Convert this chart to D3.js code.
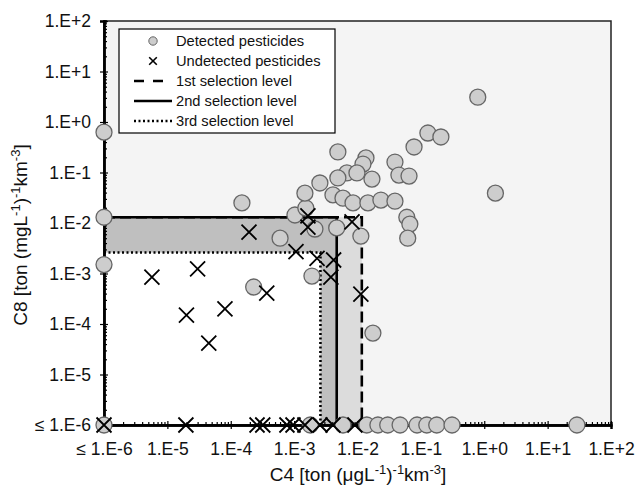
<!DOCTYPE html>
<html>
<head>
<meta charset="utf-8">
<script src="https://cdn.jsdelivr.net/npm/d3@7.9.0/dist/d3.min.js"></script>
<style>
  body { margin: 0; background: #fff; }
  svg { font-family: "Liberation Sans", Arial, sans-serif; }
</style>
</head>
<body>
<svg id="chart" width="638" height="487"></svg>
<script>
// values at or below 1e-6 are drawn on the axis
const FLOOR = 1e-6;

// detected pesticides: C4 and C8
const detectedC4 = [
  FLOOR, FLOOR, FLOOR, FLOOR,
  1.8e-3, 5.9e-3, 1.4e-2, 2.1e-2, 3.0e-2, 4.7e-2, 8.7e-2, 0.124, 0.178, 0.31, 29,
  1.5e-4, 6.0e-4, 2.3e-4, 1.03e-3, 1.53e-3, 1.48e-3, 2.55e-3, 2.13e-3, 1.91e-3,
  4.7e-3, 1.13e-2, 4.9e-3, 1.36e-2, 1.22e-2, 6.8e-3, 9.8e-3, 4.9e-3, 1.69e-2,
  3.9e-2, 4.5e-2, 6.5e-2, 7.8e-2, 0.129, 0.207, 4.1e-3, 5.9e-3, 8.5e-3, 1.46e-2,
  2.34e-2, 3.9e-2, 6.0e-2, 6.7e-2, 6.2e-2, 1.75e-2, 0.79, 1.5
];
const detectedC8 = [
  0.63, 1.3e-2, 1.5e-3, FLOOR,
  FLOOR, FLOOR, FLOOR, FLOOR, FLOOR, FLOOR, FLOOR, FLOOR, FLOOR, FLOOR, FLOOR,
  2.5e-2, 5.0e-3, 5.4e-4, 1.44e-2, 1.98e-2, 3.9e-2, 6.2e-2, 7.6e-3, 8.9e-4,
  8.0e-3, 5.5e-3, 0.255, 0.194, 0.147, 9.8e-2, 9.8e-2, 7.8e-2, 7.4e-2,
  0.161, 8.9e-2, 8.5e-2, 0.32, 0.605, 0.505, 3.6e-2, 3.1e-2, 2.5e-2, 2.5e-2,
  2.85e-2, 2.7e-2, 1.3e-2, 9.5e-3, 5.0e-3, 6.6e-5, 3.1, 3.9e-2
];

// undetected pesticides: C4 and C8
const undetectedC4 = [
  FLOOR, 1.96e-5, 2.6e-4, 3.2e-4, 7.7e-4, 9.6e-4, 1.48e-3, 2.56e-3, 4.1e-3, 9.1e-3,
  5.7e-6, 3.0e-5, 2.0e-5, 8.1e-5, 4.5e-5, 3.7e-4, 1.94e-4, 1.65e-3, 1.65e-3,
  8.2e-3, 1.07e-3, 2.3e-3, 4.2e-3, 3.8e-3, 1.13e-2
];
const undetectedC8 = [
  FLOOR, FLOOR, FLOOR, FLOOR, FLOOR, FLOOR, FLOOR, FLOOR, FLOOR, FLOOR,
  8.5e-4, 1.23e-3, 1.5e-4, 2.0e-4, 4.2e-5, 4.1e-4, 6.6e-3, 1.38e-2, 8.3e-3,
  1.05e-2, 2.7e-3, 2.0e-3, 1.85e-3, 8.5e-4, 3.9e-4
];

// selection levels (C4 limit, C8 limit)
const levelNames = ["1st selection level", "2nd selection level", "3rd selection level"];
const levelC4 = [1.17e-2, 4.7e-3, 2.6e-3];
const levelC8 = [1.3e-2, 1.3e-2, 2.6e-3];

const tickValues = [1e-6, 1e-5, 1e-4, 1e-3, 1e-2, 1e-1, 1e0, 1e1, 1e2];
const tickLabels = ["\u2264 1.E-6", "1.E-5", "1.E-4", "1.E-3", "1.E-2", "1.E-1", "1.E+0", "1.E+1", "1.E+2"];

const svg = d3.select("#chart");
const x = d3.scaleLog().domain([1e-6, 1e2]).range([104, 611]);
const y = d3.scaleLog().domain([1e-6, 1e2]).range([425, 21]);

// minor ticks 2..9 in every decade
const minor = [];
for (let e = -6; e < 2; e++) for (let k = 2; k <= 9; k++) minor.push(k * Math.pow(10, e));

// background zones
const zones = [
  { x1: 1e2, y1: 1e2, fill: "#f4f4f4" },
  { x1: levelC4[0], y1: levelC8[0], fill: "#dcdcdc" },
  { x1: levelC4[1], y1: levelC8[1], fill: "#bfbfbf" },
  { x1: levelC4[2], y1: levelC8[2], fill: "#ffffff" }
];
svg.selectAll("rect.zone").data(zones).join("rect")
  .attr("class", "zone")
  .attr("x", x(1e-6))
  .attr("y", d => y(d.y1))
  .attr("width", d => x(d.x1) - x(1e-6))
  .attr("height", d => y(1e-6) - y(d.y1))
  .attr("fill", d => d.fill);

// selection level lines
const dashes = ["11 5", null, "2 2.5"];
levelNames.forEach((name, i) => {
  svg.append("path")
    .attr("d", d3.line()([
      [x(1e-6), y(levelC8[i])],
      [x(levelC4[i]), y(levelC8[i])],
      [x(levelC4[i]), y(1e-6)]
    ]))
    .attr("fill", "none")
    .attr("stroke", "#000")
    .attr("stroke-width", 2.6)
    .attr("stroke-dasharray", dashes[i]);
});

// frame
svg.append("rect")
  .attr("x", x(1e-6)).attr("y", y(1e2))
  .attr("width", x(1e2) - x(1e-6)).attr("height", y(1e-6) - y(1e2))
  .attr("fill", "none").attr("stroke", "#222").attr("stroke-width", 1.5);

// axes
const fmt = v => tickLabels[tickValues.indexOf(v)];
const xAxis = svg.append("g").attr("transform", `translate(0,${y(1e-6)})`)
  .call(d3.axisBottom(x).tickValues(tickValues).tickFormat(fmt).tickSize(4).tickPadding(13));
const xMinor = svg.append("g").attr("transform", `translate(0,${y(1e-6)})`)
  .call(d3.axisBottom(x).tickValues(minor).tickFormat("").tickSize(-3));
const yAxis = svg.append("g").attr("transform", `translate(${x(1e-6)},0)`)
  .call(d3.axisLeft(y).tickValues(tickValues).tickFormat(fmt).tickSize(4).tickPadding(9));
const yMinor = svg.append("g").attr("transform", `translate(${x(1e-6)},0)`)
  .call(d3.axisLeft(y).tickValues(minor).tickFormat("").tickSize(-3));

[xAxis, yAxis, xMinor, yMinor].forEach(g => {
  g.select(".domain").attr("stroke", "#000").attr("stroke-width", 2.4);
  g.selectAll(".tick line").attr("stroke", "#000").attr("stroke-width", 1.2);
});
xAxis.selectAll(".tick line").attr("y1", -4);
yAxis.selectAll(".tick line").attr("x1", 4);
[xAxis, yAxis].forEach(g => g.selectAll("text")
  .attr("font-size", 17.5).attr("fill", "#111")
  .attr("font-family", "'Liberation Sans', Arial, sans-serif"));
xAxis.selectAll("text").attr("dy", "0.75em");

// markers
const detected = detectedC4.map((v, i) => [v, detectedC8[i]]);
const undetected = undetectedC4.map((v, i) => [v, undetectedC8[i]]);

svg.append("g").selectAll("circle").data(detected).join("circle")
  .attr("cx", d => x(d[0])).attr("cy", d => y(d[1]))
  .attr("r", 8)
  .attr("fill", "#cdcdcd")
  .attr("stroke", "#666")
  .attr("stroke-width", 1.3);

const cross = s => `M${-s},${-s}L${s},${s}M${-s},${s}L${s},${-s}`;
svg.append("g").selectAll("path").data(undetected).join("path")
  .attr("transform", d => `translate(${x(d[0])},${y(d[1])})`)
  .attr("d", cross(7.5))
  .attr("stroke", "#000")
  .attr("stroke-width", 1.8)
  .attr("fill", "none");

// legend
const legend = svg.append("g").attr("font-size", 14.7).attr("fill", "#111");
legend.append("rect")
  .attr("x", 119).attr("y", 29).attr("width", 216).attr("height", 104)
  .attr("fill", "#fff").attr("stroke", "#000").attr("stroke-width", 1.2);
const legendItems = ["Detected pesticides", "Undetected pesticides"].concat(levelNames);
legendItems.forEach((label, i) => {
  const cy = 41 + i * 20;
  legend.append("text").attr("x", 176).attr("y", cy).attr("dy", "0.35em").text(label);
  if (i === 0) {
    legend.append("circle").attr("cx", 153).attr("cy", cy).attr("r", 4.2)
      .attr("fill", "#cdcdcd").attr("stroke", "#666").attr("stroke-width", 1);
  } else if (i === 1) {
    legend.append("path").attr("transform", `translate(153,${cy})`).attr("d", cross(3.8))
      .attr("stroke", "#000").attr("stroke-width", 1.6);
  } else {
    legend.append("line").attr("x1", 134).attr("x2", 172).attr("y1", cy).attr("y2", cy)
      .attr("stroke", "#000").attr("stroke-width", 2.4)
      .attr("stroke-dasharray", [null, "10 9", null, "2 2.5"][i - 1]);
  }
});

// axis titles
function unitTitle(sel, lead) {
  sel.append("tspan").text(lead);
  sel.append("tspan").attr("font-size", 13).attr("dy", -7).text("-1");
  sel.append("tspan").attr("dy", 7).text(")");
  sel.append("tspan").attr("font-size", 13).attr("dy", -7).text("-1");
  sel.append("tspan").attr("dy", 7).text("km");
  sel.append("tspan").attr("font-size", 13).attr("dy", -7).text("-3");
  sel.append("tspan").attr("dy", 7).text("]");
}
unitTitle(svg.append("text").attr("x", 358).attr("y", 481).attr("text-anchor", "middle")
  .attr("font-size", 19).attr("fill", "#111"), "C4 [ton (\u03bcgL");
unitTitle(svg.append("text").attr("transform", "translate(27,235) rotate(-90)")
  .attr("text-anchor", "middle").attr("font-size", 19).attr("fill", "#111"), "C8 [ton (mgL");
</script>
</body>
</html>
